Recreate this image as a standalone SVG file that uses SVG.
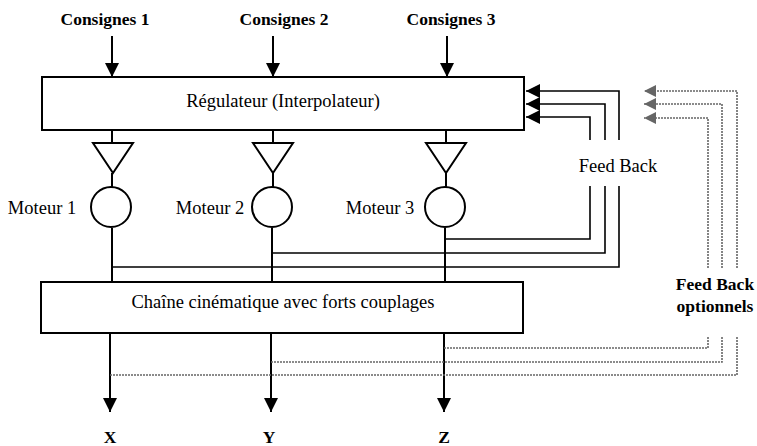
<svg xmlns="http://www.w3.org/2000/svg" width="757" height="446" viewBox="0 0 757 446">
<defs>
<marker id="ah" markerUnits="userSpaceOnUse" markerWidth="16" markerHeight="14" refX="14" refY="7" orient="auto"><path d="M0,0 L14,7 L0,14 Z" fill="#000"/></marker>
<marker id="ahg" markerUnits="userSpaceOnUse" markerWidth="14" markerHeight="12" refX="12" refY="6" orient="auto"><path d="M0,0 L12,6 L0,12 Z" fill="#666"/></marker>
</defs>
<style>
.t{font-family:"Liberation Serif",serif;font-size:18.5px;fill:#000;text-anchor:middle}
.b{font-weight:bold;font-size:17.5px}
.box{fill:#fff;stroke:#000;stroke-width:2}
.ln{fill:none;stroke:#000;stroke-width:2}
.fb{fill:none;stroke:#000;stroke-width:1.6}
.dt{fill:none;stroke:#666;stroke-width:1.6;stroke-dasharray:2 1}
</style>
<g id="connectors">
<line class="ln" x1="112" y1="36" x2="112" y2="77" marker-end="url(#ah)"/>
<line class="ln" x1="273" y1="36" x2="273" y2="77" marker-end="url(#ah)"/>
<line class="ln" x1="447" y1="36" x2="447" y2="77" marker-end="url(#ah)"/>
<line class="ln" x1="112" y1="130" x2="112" y2="143"/>
<line class="ln" x1="273" y1="130" x2="273" y2="143"/>
<line class="ln" x1="446" y1="130" x2="446" y2="143"/>
<line class="ln" x1="112" y1="173" x2="112" y2="187"/>
<line class="ln" x1="273" y1="173" x2="273" y2="187"/>
<line class="ln" x1="446" y1="173" x2="446" y2="187"/>
<line class="ln" x1="112" y1="228" x2="112" y2="282"/>
<line class="ln" x1="272" y1="228" x2="272" y2="282"/>
<line class="ln" x1="445" y1="228" x2="445" y2="282"/>
<path class="fb" d="M445,239 H590 V186 M590,140 V117 H526" marker-end="url(#ah)"/>
<path class="fb" d="M272,253 H605 V186 M605,140 V104 H526" marker-end="url(#ah)"/>
<path class="fb" d="M112,267 H619 V186 M619,140 V91 H526" marker-end="url(#ah)"/>
<line class="ln" x1="110" y1="333" x2="110" y2="412" marker-end="url(#ah)"/>
<line class="ln" x1="271" y1="333" x2="271" y2="412" marker-end="url(#ah)"/>
<line class="ln" x1="444" y1="333" x2="444" y2="412" marker-end="url(#ah)"/>
<path class="dt" d="M444,348 H708 V336 M708,268 V118 H644" marker-end="url(#ahg)"/>
<path class="dt" d="M271,362 H722 V336 M722,268 V104 H644" marker-end="url(#ahg)"/>
<path class="dt" d="M110,375 H737 V336 M737,268 V91 H644" marker-end="url(#ahg)"/>
</g>
<g id="consignes">
<text class="t b" x="105" y="25">Consignes 1</text>
<text class="t b" x="284" y="25">Consignes 2</text>
<text class="t b" x="451" y="25">Consignes 3</text>
</g>
<g id="regulateur">
<rect class="box" x="42" y="77" width="482" height="53"/>
<text class="t" x="283" y="107">Régulateur (Interpolateur)</text>
</g>
<g id="moteur1">
<path class="ln" d="M93,143 H133 L113,173 Z" fill="#fff"/>
<circle class="ln" cx="111" cy="207" r="20" fill="#fff"/>
<text class="t" x="42" y="214">Moteur 1</text>
</g>
<g id="moteur2">
<path class="ln" d="M253,143 H293 L273,173 Z" fill="#fff"/>
<circle class="ln" cx="272" cy="207" r="20" fill="#fff"/>
<text class="t" x="210" y="214">Moteur 2</text>
</g>
<g id="moteur3">
<path class="ln" d="M426,143 H466 L446,173 Z" fill="#fff"/>
<circle class="ln" cx="445" cy="207" r="20" fill="#fff"/>
<text class="t" x="380" y="214">Moteur 3</text>
</g>
<g id="feedback-label">
<text class="t" x="618" y="172">Feed Back</text>
</g>
<g id="chaine">
<rect class="box" x="41" y="282" width="482" height="51"/>
<text class="t" x="283" y="308">Chaîne cinématique avec forts couplages</text>
</g>
<g id="feedback-optionnels-label">
<text class="t b" x="715" y="290">Feed Back</text>
<text class="t b" x="715" y="312">optionnels</text>
</g>
<g id="outputs">
<text class="t b" x="110" y="443">X</text>
<text class="t b" x="269" y="443">Y</text>
<text class="t b" x="444" y="443">Z</text>
</g>
</svg>
